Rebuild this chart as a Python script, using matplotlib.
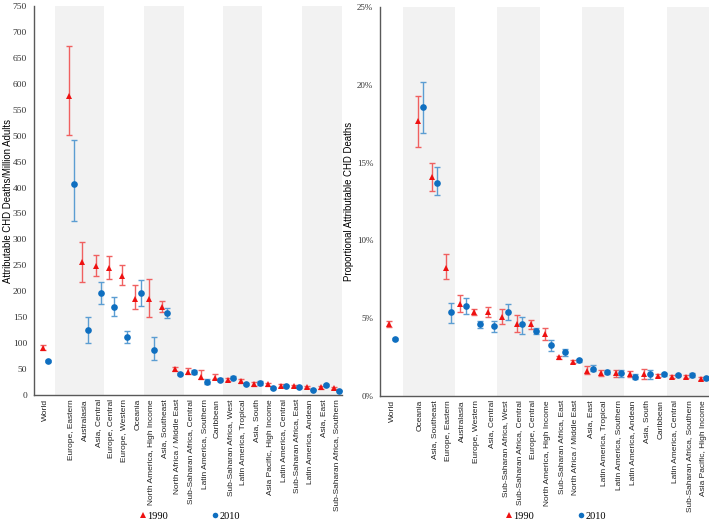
import matplotlib
matplotlib.use("Agg")
import matplotlib.pyplot as plt
from matplotlib.lines import Line2D
from matplotlib.ticker import FuncFormatter
import numpy as np

# left panel: attributable CHD deaths per million adults
rate_regions = [
    "World", "",
    "Europe, Eastern", "Australasia", "Asia, Central", "Europe, Central",
    "Europe, Western", "Oceania", "North America, High Income", "Asia, Southeast",
    "North Africa / Middle East", "Sub-Saharan Africa, Central", "Latin America, Southern",
    "Caribbean", "Sub-Saharan Africa, West", "Latin America, Tropical", "Asia, South",
    "Asia Pacific, High Income", "Latin America, Central", "Sub-Saharan Africa, East",
    "Latin America, Andean", "Asia, East", "Sub-Saharan Africa, Southern",
]
rate_1990 = [91, None, 577, 256, 249, 244, 229, 186, 185, 170, 50, 45, 35, 33, 29, 27, 21, 21, 18, 17, 15, 15, 13]
rate_1990_lo = [87, None, 501, 217, 230, 224, 212, 165, 150, 160, 46, 41, 30, 30, 27, 24, 18, 17, 16, 15, 13, 12, 11]
rate_1990_hi = [97, None, 672, 295, 270, 268, 250, 213, 223, 181, 54, 52, 48, 40, 33, 31, 26, 24, 21, 20, 18, 17, 16]
rate_2010 = [66, None, 407, 125, 196, 170, 112, 196, 87, 158, 40, 44, 25, 29, 33, 21, 23, 13, 18, 15, 10, 19, 8]
rate_2010_lo = [64, None, 335, 100, 176, 153, 100, 172, 67, 148, 38, 40, 21, 27, 31, 20, 20, 12, 17, 14, 9, 17, 7]
rate_2010_hi = [68, None, 491, 150, 218, 189, 124, 221, 112, 168, 42, 49, 31, 33, 36, 23, 27, 15, 19, 17, 12, 21, 10]

# right panel: proportion of CHD deaths attributable (%)
prop_regions = [
    "World", "",
    "Oceania", "Asia, Southeast", "Europe, Eastern", "Australasia", "Europe, Western",
    "Asia, Central", "Sub-Saharan Africa, West", "Sub-Saharan Africa, Central",
    "Europe, Central", "North America, High Income", "Sub-Saharan Africa, East",
    "North Africa / Middle East", "Asia, East", "Latin America, Tropical",
    "Latin America, Southern", "Latin America, Andean", "Asia, South", "Caribbean",
    "Latin America, Central", "Sub-Saharan Africa, Southern", "Asia Pacific, High Income",
]
prop_1990 = [4.6, None, 17.7, 14.1, 8.2, 5.9, 5.4, 5.4, 5.1, 4.6, 4.6, 4.0, 2.5, 2.2, 1.6, 1.5, 1.45, 1.4, 1.4, 1.3, 1.25, 1.25, 1.1]
prop_1990_lo = [4.45, None, 16.0, 13.2, 7.5, 5.4, 5.2, 5.1, 4.6, 4.1, 4.3, 3.6, 2.4, 2.1, 1.4, 1.3, 1.2, 1.2, 1.1, 1.2, 1.15, 1.15, 1.0]
prop_1990_hi = [4.8, None, 19.3, 15.0, 9.1, 6.5, 5.6, 5.7, 5.6, 5.2, 4.9, 4.4, 2.6, 2.3, 1.9, 1.7, 1.7, 1.6, 1.75, 1.4, 1.35, 1.35, 1.2]
prop_2010 = [3.65, None, 18.6, 13.7, 5.4, 5.8, 4.6, 4.5, 5.4, 4.6, 4.2, 3.3, 2.8, 2.3, 1.75, 1.55, 1.5, 1.25, 1.4, 1.4, 1.35, 1.35, 1.15]
prop_2010_lo = [3.6, None, 16.9, 12.9, 4.7, 5.3, 4.4, 4.1, 4.9, 4.0, 4.0, 2.9, 2.6, 2.2, 1.6, 1.4, 1.2, 1.1, 1.1, 1.3, 1.3, 1.25, 1.1]
prop_2010_hi = [3.7, None, 20.2, 14.7, 6.0, 6.3, 4.8, 4.8, 5.9, 5.1, 4.4, 3.6, 3.0, 2.4, 2.0, 1.7, 1.7, 1.4, 1.65, 1.5, 1.4, 1.45, 1.2]

RED = "#ee1111"
RED_BAR = "#f06060"
BLUE = "#0f6fc0"
BLUE_BAR = "#5b9dd2"
SHADE = "#f2f2f2"
SPINE = "#595959"
SERIF = ["Liberation Serif", "DejaVu Serif"]
SANS = ["Liberation Sans", "DejaVu Sans"]

BANDS = [(0.75, 4.45), (7.45, 10.45), (13.4, 16.4), (19.4, 22.4)]
OFFSET = 0.2


def draw_series(ax, vals, lo, hi, dx, marker, color, ecolor):
    idx = [i for i, v in enumerate(vals) if v is not None]
    x = np.array(idx) + dx
    y = np.array([vals[i] for i in idx], dtype=float)
    err = np.array([[vals[i] - lo[i] for i in idx], [hi[i] - vals[i] for i in idx]])
    ax.errorbar(x, y, yerr=err, fmt="none", ecolor=ecolor,
                elinewidth=1.0, capsize=2.3, capthick=1.0, zorder=2)
    ax.plot(x, y, ls="none", marker=marker, color=color,
            markersize=4.8, markeredgewidth=0, zorder=3)


def style_panel(ax, labels, ylim, yticks, ylabel, label_x, fmt=None, tick_size=6.8):
    for a, b in BANDS:
        ax.axvspan(a, b, color=SHADE, lw=0, zorder=0)
    ax.set_xlim(-0.85, 22.4)
    ax.set_ylim(*ylim)
    ax.set_yticks(yticks)
    if fmt is not None:
        ax.yaxis.set_major_formatter(FuncFormatter(fmt))
    ax.set_xticks(range(len(labels)))
    ax.set_xticklabels(labels, rotation=90, fontsize=6.0, family=SANS, color="#222222")
    ax.tick_params(axis="both", length=0)
    ax.tick_params(axis="x", pad=3)
    ax.tick_params(axis="y", pad=5)
    for lab in ax.get_yticklabels():
        lab.set_family(SERIF)
        lab.set_fontsize(tick_size)
        lab.set_color("#333333")
    for side in ("top", "right"):
        ax.spines[side].set_visible(False)
    for side in ("left", "bottom"):
        ax.spines[side].set_color(SPINE)
        ax.spines[side].set_linewidth(1.0)
    ax.set_ylabel(ylabel, fontsize=6.9, family=SANS)
    ax.yaxis.set_label_coords(label_x, 0.5)


fig = plt.figure(figsize=(7.09, 5.22), dpi=100)
ax1 = fig.add_axes([0.048, 0.2433, 0.434, 0.7452])
ax2 = fig.add_axes([0.536, 0.2414, 0.464, 0.7452])

draw_series(ax1, rate_1990, rate_1990_lo, rate_1990_hi, -OFFSET, "^", RED, RED_BAR)
draw_series(ax1, rate_2010, rate_2010_lo, rate_2010_hi, OFFSET, "o", BLUE, BLUE_BAR)
style_panel(ax1, rate_regions, (0, 750), range(0, 751, 50),
            "Attributable CHD Deaths/Million Adults", -0.068)

draw_series(ax2, prop_1990, prop_1990_lo, prop_1990_hi, -OFFSET, "^", RED, RED_BAR)
draw_series(ax2, prop_2010, prop_2010_lo, prop_2010_hi, OFFSET, "o", BLUE, BLUE_BAR)
style_panel(ax2, prop_regions, (0, 25), range(0, 26, 5),
            "Proportional Attributable CHD Deaths", -0.08,
            fmt=lambda v, p: f"{v:.0f}%", tick_size=6.5)

handles = [
    Line2D([], [], ls="none", marker="^", color=RED, markersize=4, markeredgewidth=0, label="1990"),
    Line2D([], [], ls="none", marker="o", color=BLUE, markersize=4, markeredgewidth=0, label="2010"),
]
for cx in (190 / 709, 556 / 709):
    fig.legend(handles=handles, loc="center", bbox_to_anchor=(cx, 1 - 516 / 522),
               ncol=2, frameon=False, handlelength=0.6, handletextpad=0.1,
               columnspacing=4.2, prop={"family": SERIF, "size": 7.5})

fig.savefig("out.png", dpi=100)
